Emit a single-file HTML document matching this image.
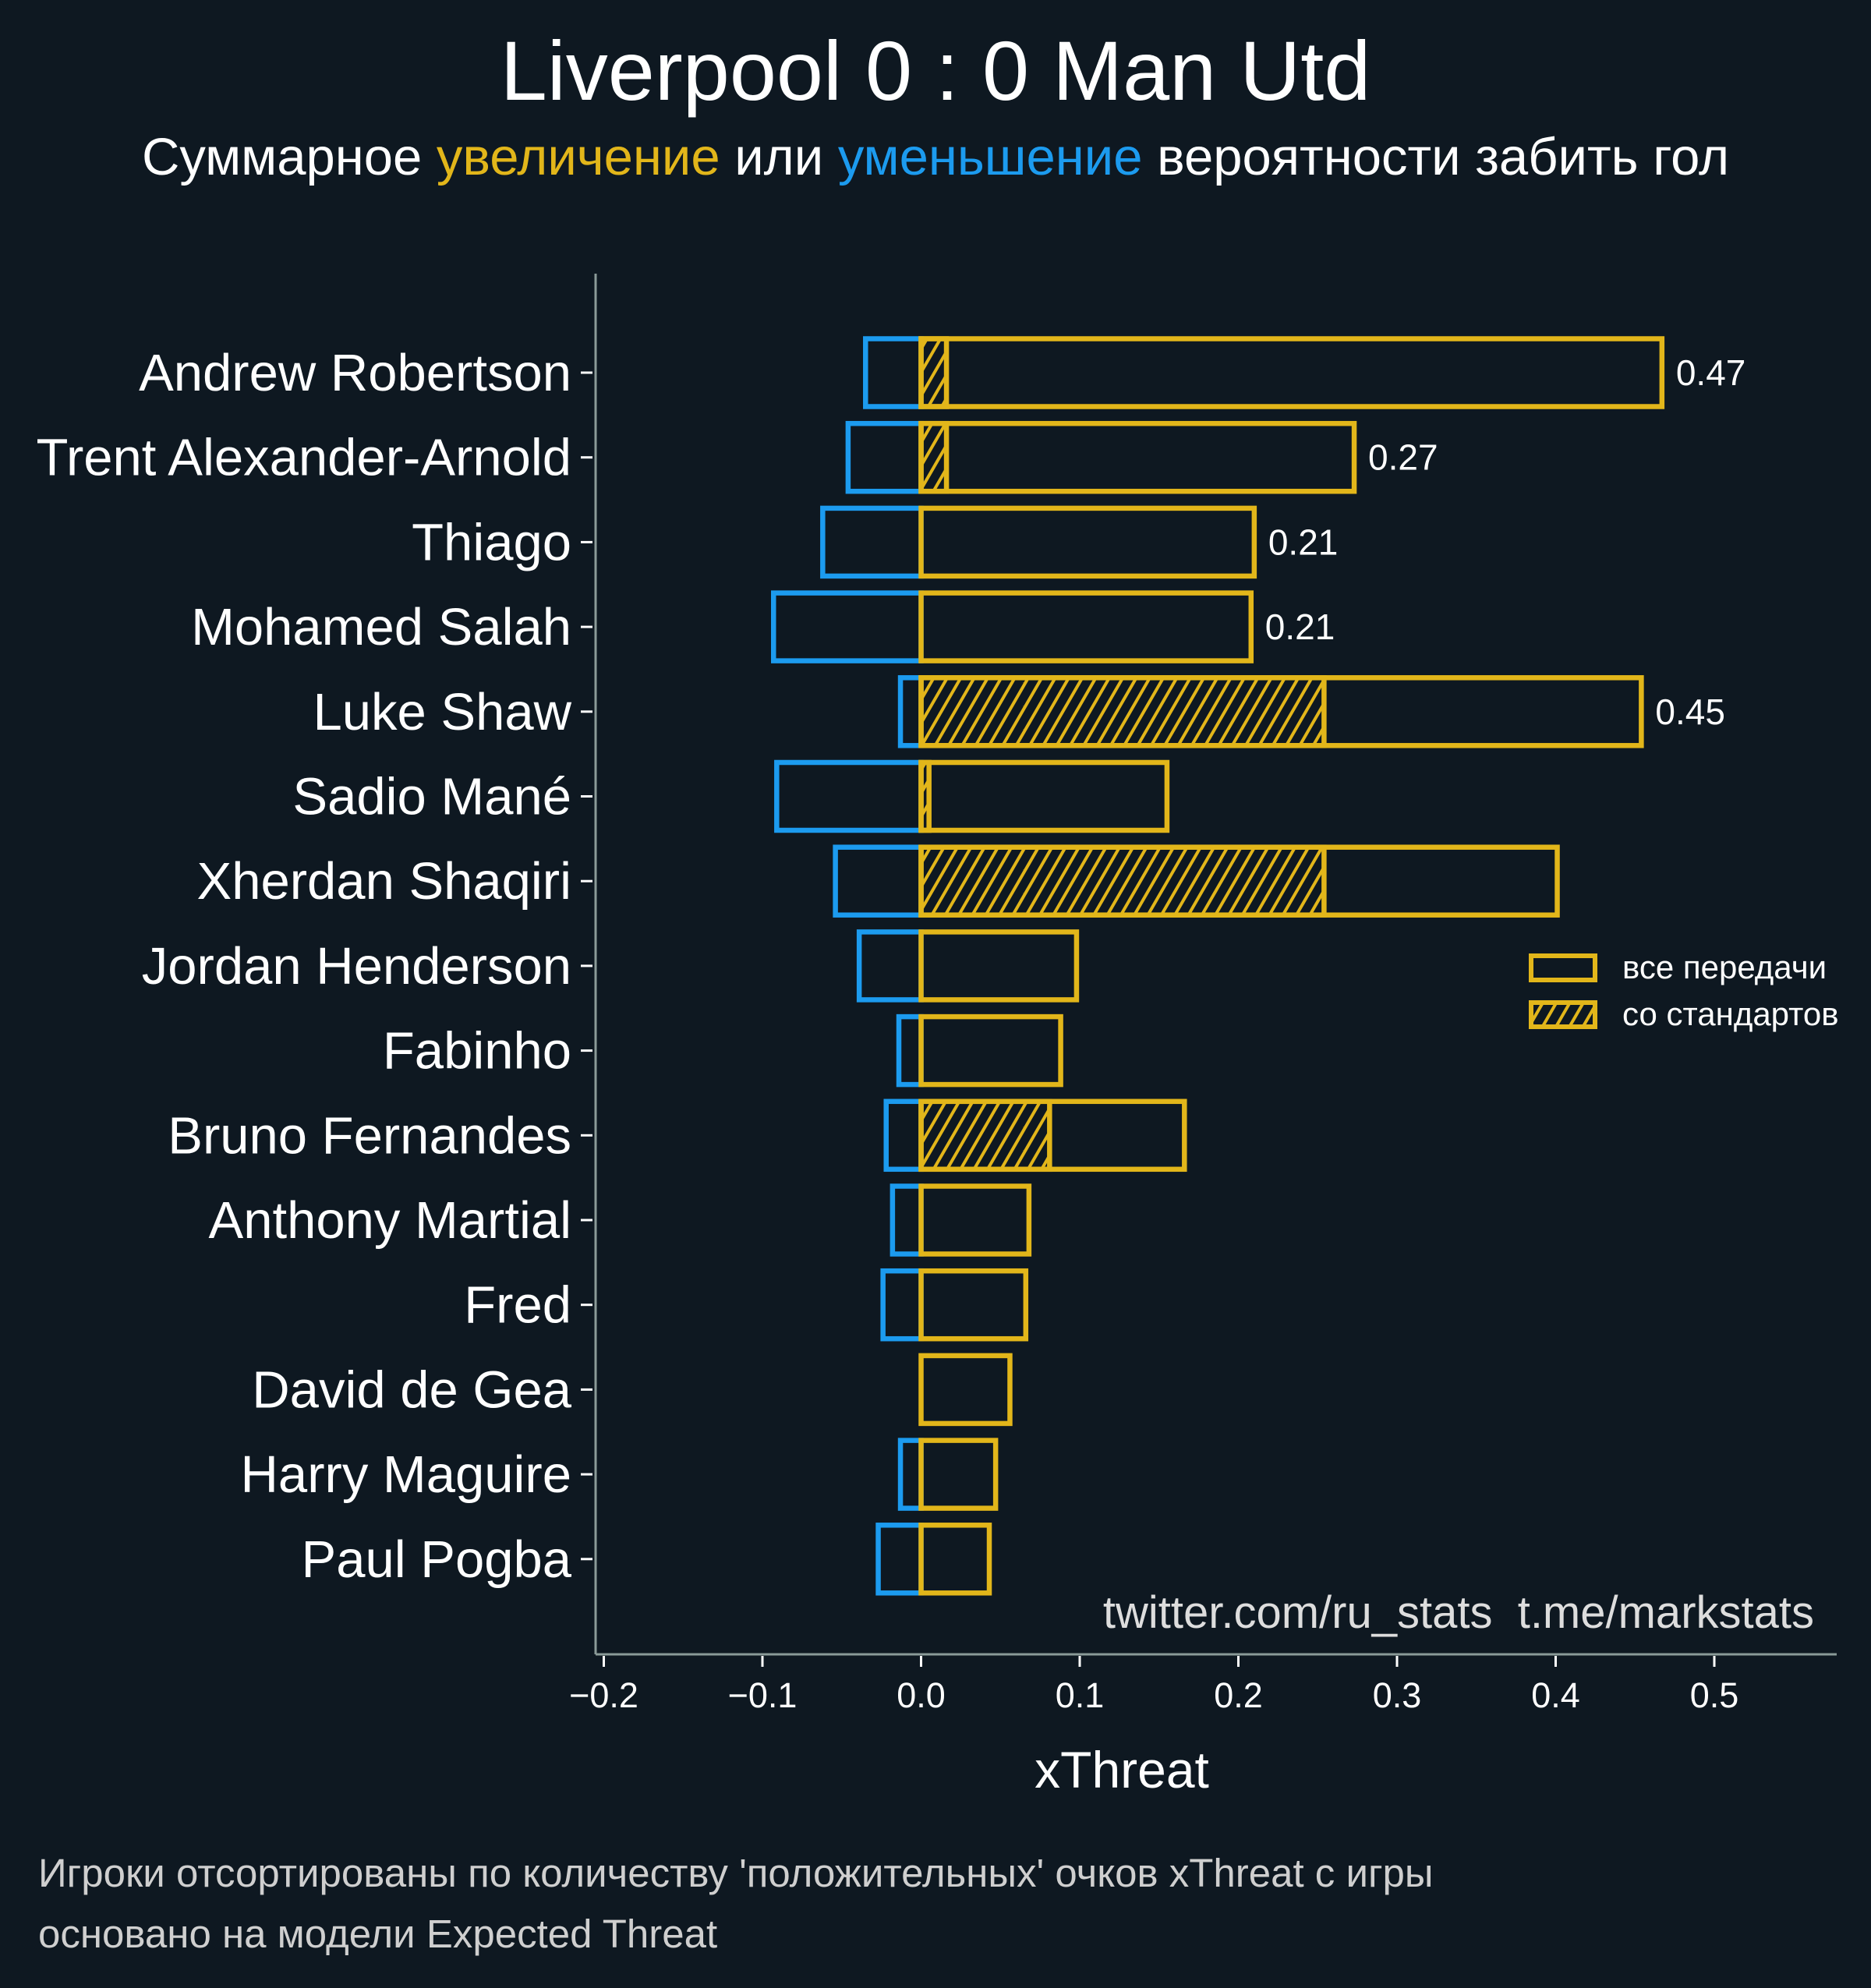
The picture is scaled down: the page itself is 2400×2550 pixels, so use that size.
<!DOCTYPE html>
<html><head><meta charset="utf-8"><style>
html,body{margin:0;padding:0;background:#0e1821}
svg{display:block}
text{font-family:"Liberation Sans",Arial,sans-serif}
</style></head><body>
<svg id="chart" width="2400" height="2550" viewBox="0 0 2400 2550" xmlns="http://www.w3.org/2000/svg">
<defs>
<pattern id="hatch" patternUnits="userSpaceOnUse" width="15" height="15" patternTransform="rotate(30)">
<line x1="2" y1="0" x2="2" y2="15" stroke="#e2b61a" stroke-width="4"/>
</pattern>
</defs>
<rect width="2400" height="2550" fill="#0e1821"/>
<text x="1200" y="128" text-anchor="middle" font-size="108" fill="#fff">Liverpool 0 : 0 Man Utd</text>
<text x="1200" y="224" text-anchor="middle" font-size="67" fill="#fff">Суммарное <tspan fill="#e2b61a">увеличение</tspan> или <tspan fill="#1c9bef">уменьшение</tspan> вероятности забить гол</text>
<g id="plot"></g>
<line x1="764" y1="351" x2="764" y2="2122" stroke="#8a9a98" stroke-width="3"/>
<line x1="764" y1="2122" x2="2356" y2="2122" stroke="#8a9a98" stroke-width="3"/>
<text x="2327" y="2088" text-anchor="end" font-size="58" fill="#ddd" xml:space="preserve" style="white-space:pre">twitter.com/ru_stats  t.me/markstats</text>
<text x="1439" y="2293" text-anchor="middle" font-size="66" fill="#fff">xThreat</text>
<g>
<rect x="1964" y="1226" width="82" height="31" fill="none" stroke="#e2b61a" stroke-width="6"/>
<text x="2081" y="1255" font-size="42" fill="#fff">все передачи</text>
<rect x="1964" y="1286" width="82" height="31" fill="url(#hatch)" stroke="#e2b61a" stroke-width="6"/>
<text x="2081" y="1315" font-size="42" fill="#fff">со стандартов</text>
</g>
<text x="49" y="2420" font-size="51" fill="#cfcfcf">Игроки отсортированы по количеству 'положительных' очков xThreat с игры</text>
<text x="49" y="2498" font-size="51" fill="#cfcfcf">основано на модели Expected Threat</text>
</svg>
<script>
const players = ["Andrew Robertson","Trent Alexander-Arnold","Thiago","Mohamed Salah","Luke Shaw","Sadio Mané","Xherdan Shaqiri","Jordan Henderson","Fabinho","Bruno Fernandes","Anthony Martial","Fred","David de Gea","Harry Maguire","Paul Pogba"];
const positiveValues = [0.467,0.273,0.210,0.208,0.454,0.155,0.401,0.098,0.088,0.166,0.068,0.066,0.056,0.047,0.043];
const negativeValues = [-0.035,-0.046,-0.062,-0.093,-0.013,-0.091,-0.054,-0.039,-0.014,-0.022,-0.018,-0.024,0,-0.013,-0.027];
const setPieceValues = [0.016,0.016,0,0,0.254,0.005,0.254,0,0,0.081,0,0,0,0,0];
const labelFlags = [true,true,true,true,true,false,false,false,false,false,false,false,false,false,false];
const xTicks = [-0.2,-0.1,0.0,0.1,0.2,0.3,0.4,0.5];
const xTickLabels = ["\u22120.2","\u22120.1","0.0","0.1","0.2","0.3","0.4","0.5"];

const NS = "http://www.w3.org/2000/svg";
const X0 = 1181.5, XS = 2035;
const xScale = v => X0 + v * XS;
const yScale = i => 478 + i * 108.7;
const BH = 87;
const g = document.getElementById("plot");
function mk(tag, attrs){const e=document.createElementNS(NS,tag);for(const k in attrs)e.setAttribute(k,attrs[k]);g.appendChild(e);return e;}

xTicks.forEach((t,i)=>{
  const x = xScale(t);
  const tk = mk("line",{x1:x,y1:2124,x2:x,y2:2138,stroke:"#fff","stroke-width":3});
  
  
  const tl = mk("text",{x:x,y:2190,"text-anchor":"middle","font-size":45,fill:"#fff"});
  tl.textContent = xTickLabels[i];
  
  
});

players.forEach((p,i)=>{
  const yc = yScale(i), y = yc - BH/2;
  const tk = mk("line",{x1:745,y1:yc,x2:760,y2:yc,stroke:"#fff","stroke-width":3});
  
  
  const lab = mk("text",{x:733,y:yc+23,"text-anchor":"end","font-size":67,fill:"#fff"});
  lab.textContent = p;
  
  
  if (negativeValues[i] < 0) {
    const xn = xScale(negativeValues[i]);
    const nb = mk("rect",{x:xn,y:y,width:X0-xn,height:BH,fill:"none",stroke:"#1c9bef","stroke-width":6.5});
    
    
  }
  if (setPieceValues[i] > 0) {
    const sb = mk("rect",{x:X0,y:y,width:xScale(setPieceValues[i])-X0,height:BH,fill:"url(#hatch)",stroke:"#e2b61a","stroke-width":6.5});
    
    
  }
  const pb = mk("rect",{x:X0,y:y,width:xScale(positiveValues[i])-X0,height:BH,fill:"none",stroke:"#e2b61a","stroke-width":6.5});
  
  
  if (labelFlags[i]) {
    const vl = mk("text",{x:xScale(positiveValues[i])+18,y:yc+16,"font-size":46,fill:"#fff"});
    vl.textContent = positiveValues[i].toFixed(2);
    
    
  }
});
</script>
</body></html>
